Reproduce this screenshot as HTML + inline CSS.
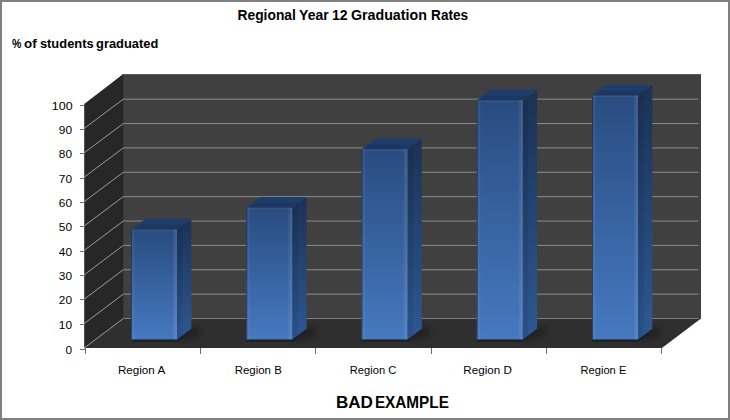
<!DOCTYPE html>
<html><head><meta charset="utf-8"><style>
html,body{margin:0;padding:0;background:#fff;}
body{width:730px;height:420px;overflow:hidden;position:relative;font-family:"Liberation Sans",sans-serif;}
.frame{position:absolute;left:0;top:0;width:730px;height:420px;box-sizing:border-box;border:2px solid #7f7f7f;}
svg{position:absolute;left:0;top:0;}
</style></head><body>
<svg width="730" height="420" viewBox="0 0 730 420">
<defs>
<linearGradient id="gf" x1="0" y1="0" x2="0" y2="1"><stop offset="0" stop-color="#294c80"/><stop offset="1" stop-color="#4679c0"/></linearGradient>
<linearGradient id="gs" x1="0" y1="0" x2="0" y2="1"><stop offset="0" stop-color="#1a3254"/><stop offset="1" stop-color="#2e5894"/></linearGradient>
<filter id="bl" x="-50%" y="-50%" width="200%" height="200%"><feGaussianBlur stdDeviation="2.5"/></filter>
</defs>
<polygon points="85.7,105.2 123.3,74 701,74 701,319 85.7,348" fill="#404040"/>
<polygon points="84.2,104 123.3,74 123.3,318.5 84.2,348" fill="#272727"/>
<polygon points="84.2,348 123.3,318.5 701,318.5 661.9,348" fill="#2f2f2f"/>
<line x1="123.3" y1="318.5" x2="698.5" y2="318.5" stroke="#7c7c7c" stroke-width="1"/>
<line x1="84.2" y1="348" x2="123.3" y2="318.5" stroke="#9c9c9c" stroke-width="1"/>
<line x1="123.3" y1="294.13" x2="698.5" y2="294.13" stroke="#8c8c8c" stroke-width="1"/>
<line x1="84.2" y1="323.6" x2="123.3" y2="294.13" stroke="#9c9c9c" stroke-width="1"/>
<line x1="123.3" y1="269.76" x2="698.5" y2="269.76" stroke="#8c8c8c" stroke-width="1"/>
<line x1="84.2" y1="299.2" x2="123.3" y2="269.76" stroke="#9c9c9c" stroke-width="1"/>
<line x1="123.3" y1="245.39" x2="698.5" y2="245.39" stroke="#8c8c8c" stroke-width="1"/>
<line x1="84.2" y1="274.8" x2="123.3" y2="245.39" stroke="#9c9c9c" stroke-width="1"/>
<line x1="123.3" y1="221.02" x2="698.5" y2="221.02" stroke="#8c8c8c" stroke-width="1"/>
<line x1="84.2" y1="250.4" x2="123.3" y2="221.02" stroke="#9c9c9c" stroke-width="1"/>
<line x1="123.3" y1="196.65" x2="698.5" y2="196.65" stroke="#8c8c8c" stroke-width="1"/>
<line x1="84.2" y1="226" x2="123.3" y2="196.65" stroke="#9c9c9c" stroke-width="1"/>
<line x1="123.3" y1="172.28" x2="698.5" y2="172.28" stroke="#8c8c8c" stroke-width="1"/>
<line x1="84.2" y1="201.6" x2="123.3" y2="172.28" stroke="#9c9c9c" stroke-width="1"/>
<line x1="123.3" y1="147.91" x2="698.5" y2="147.91" stroke="#8c8c8c" stroke-width="1"/>
<line x1="84.2" y1="177.2" x2="123.3" y2="147.91" stroke="#9c9c9c" stroke-width="1"/>
<line x1="123.3" y1="123.54" x2="698.5" y2="123.54" stroke="#8c8c8c" stroke-width="1"/>
<line x1="84.2" y1="152.8" x2="123.3" y2="123.54" stroke="#9c9c9c" stroke-width="1"/>
<line x1="123.3" y1="99.17" x2="698.5" y2="99.17" stroke="#8c8c8c" stroke-width="1"/>
<line x1="84.2" y1="128.4" x2="123.3" y2="99.17" stroke="#9c9c9c" stroke-width="1"/>
<line x1="80" y1="349.5" x2="85" y2="349.5" stroke="#707070" stroke-width="1"/>
<line x1="80" y1="324.5" x2="85" y2="324.5" stroke="#707070" stroke-width="1"/>
<line x1="80" y1="299.5" x2="85" y2="299.5" stroke="#707070" stroke-width="1"/>
<line x1="80" y1="275.5" x2="85" y2="275.5" stroke="#707070" stroke-width="1"/>
<line x1="80" y1="251.5" x2="85" y2="251.5" stroke="#707070" stroke-width="1"/>
<line x1="80" y1="226.5" x2="85" y2="226.5" stroke="#707070" stroke-width="1"/>
<line x1="80" y1="202.5" x2="85" y2="202.5" stroke="#707070" stroke-width="1"/>
<line x1="80" y1="178.5" x2="85" y2="178.5" stroke="#707070" stroke-width="1"/>
<line x1="80" y1="153.5" x2="85" y2="153.5" stroke="#707070" stroke-width="1"/>
<line x1="80" y1="129.5" x2="85" y2="129.5" stroke="#707070" stroke-width="1"/>
<line x1="80" y1="105.5" x2="85" y2="105.5" stroke="#707070" stroke-width="1"/>
<line x1="123.3" y1="74.5" x2="701" y2="74.5" stroke="#5a5a5a" stroke-width="1"/>
<line x1="85.5" y1="348" x2="85.5" y2="354" stroke="#6a6a6a" stroke-width="1"/>
<line x1="200.5" y1="348" x2="200.5" y2="354" stroke="#6a6a6a" stroke-width="1"/>
<line x1="315.5" y1="348" x2="315.5" y2="354" stroke="#6a6a6a" stroke-width="1"/>
<line x1="431.5" y1="348" x2="431.5" y2="354" stroke="#6a6a6a" stroke-width="1"/>
<line x1="546.5" y1="348" x2="546.5" y2="354" stroke="#6a6a6a" stroke-width="1"/>
<line x1="661.5" y1="348" x2="661.5" y2="354" stroke="#6a6a6a" stroke-width="1"/>
<polygon points="177,333.4 199.3,326.7 199.3,334.7 181,340.4" fill="#151515" opacity="0.6" filter="url(#bl)"/>
<polygon points="292.25,333.4 314.55,326.7 314.55,334.7 296.25,340.4" fill="#151515" opacity="0.6" filter="url(#bl)"/>
<polygon points="407.5,333.4 429.8,326.7 429.8,334.7 411.5,340.4" fill="#151515" opacity="0.6" filter="url(#bl)"/>
<polygon points="522.75,333.4 545.05,326.7 545.05,334.7 526.75,340.4" fill="#151515" opacity="0.6" filter="url(#bl)"/>
<polygon points="638,333.4 660.3,326.7 660.3,334.7 642,340.4" fill="#151515" opacity="0.6" filter="url(#bl)"/>
<polygon points="131,339.4 177,339.4 191.3,328.7 191.3,330.7 178,341.7 131,341.7" fill="#17222e"/>
<polygon points="177,229.6 191.3,218.9 191.3,328.7 177,339.4" fill="url(#gs)"/>
<polygon points="177,229.6 182.5,225.48 182.5,335.28 177,339.4" fill="#000" opacity="0.07"/>
<polygon points="131,229.6 145.3,218.9 191.3,218.9 177,229.6" fill="#1f3d6b"/>
<polygon points="133,229.6 139.44,224.78 183.44,224.78 177,229.6" fill="#000" opacity="0.08"/>
<rect x="131" y="229.6" width="46" height="109.8" fill="url(#gf)"/>
<rect x="131" y="229.6" width="1" height="109.8" fill="#1c2c44" opacity="0.7"/>
<rect x="173" y="229.6" width="4" height="109.8" fill="#fff" opacity="0.06"/>
<rect x="175" y="229.6" width="2" height="109.8" fill="#fff" opacity="0.05"/>
<rect x="132" y="229.6" width="2.5" height="109.8" fill="#fff" opacity="0.05"/>
<rect x="132" y="230.1" width="45" height="1.2" fill="#fff" opacity="0.06"/>
<polygon points="246.25,339.4 292.25,339.4 306.55,328.7 306.55,330.7 293.25,341.7 246.25,341.7" fill="#17222e"/>
<polygon points="292.25,207.64 306.55,196.94 306.55,328.7 292.25,339.4" fill="url(#gs)"/>
<polygon points="292.25,207.64 297.75,203.52 297.75,335.28 292.25,339.4" fill="#000" opacity="0.07"/>
<polygon points="246.25,207.64 260.55,196.94 306.55,196.94 292.25,207.64" fill="#1f3d6b"/>
<polygon points="248.25,207.64 254.69,202.82 298.69,202.82 292.25,207.64" fill="#000" opacity="0.08"/>
<rect x="246.25" y="207.64" width="46" height="131.76" fill="url(#gf)"/>
<rect x="246.25" y="207.64" width="1" height="131.76" fill="#1c2c44" opacity="0.7"/>
<rect x="288.25" y="207.64" width="4" height="131.76" fill="#fff" opacity="0.06"/>
<rect x="290.25" y="207.64" width="2" height="131.76" fill="#fff" opacity="0.05"/>
<rect x="247.25" y="207.64" width="2.5" height="131.76" fill="#fff" opacity="0.05"/>
<rect x="247.25" y="208.14" width="45" height="1.2" fill="#fff" opacity="0.06"/>
<polygon points="361.5,339.4 407.5,339.4 421.8,328.7 421.8,330.7 408.5,341.7 361.5,341.7" fill="#17222e"/>
<polygon points="407.5,149.08 421.8,138.38 421.8,328.7 407.5,339.4" fill="url(#gs)"/>
<polygon points="407.5,149.08 413,144.96 413,335.28 407.5,339.4" fill="#000" opacity="0.07"/>
<polygon points="361.5,149.08 375.8,138.38 421.8,138.38 407.5,149.08" fill="#1f3d6b"/>
<polygon points="363.5,149.08 369.94,144.26 413.94,144.26 407.5,149.08" fill="#000" opacity="0.08"/>
<rect x="361.5" y="149.08" width="46" height="190.32" fill="url(#gf)"/>
<rect x="361.5" y="149.08" width="1" height="190.32" fill="#1c2c44" opacity="0.7"/>
<rect x="403.5" y="149.08" width="4" height="190.32" fill="#fff" opacity="0.06"/>
<rect x="405.5" y="149.08" width="2" height="190.32" fill="#fff" opacity="0.05"/>
<rect x="362.5" y="149.08" width="2.5" height="190.32" fill="#fff" opacity="0.05"/>
<rect x="362.5" y="149.58" width="45" height="1.2" fill="#fff" opacity="0.06"/>
<polygon points="476.75,339.4 522.75,339.4 537.05,328.7 537.05,330.7 523.75,341.7 476.75,341.7" fill="#17222e"/>
<polygon points="522.75,100.28 537.05,89.58 537.05,328.7 522.75,339.4" fill="url(#gs)"/>
<polygon points="522.75,100.28 528.25,96.16 528.25,335.28 522.75,339.4" fill="#000" opacity="0.07"/>
<polygon points="476.75,100.28 491.05,89.58 537.05,89.58 522.75,100.28" fill="#1f3d6b"/>
<polygon points="478.75,100.28 485.19,95.46 529.18,95.46 522.75,100.28" fill="#000" opacity="0.08"/>
<rect x="476.75" y="100.28" width="46" height="239.12" fill="url(#gf)"/>
<rect x="476.75" y="100.28" width="1" height="239.12" fill="#1c2c44" opacity="0.7"/>
<rect x="518.75" y="100.28" width="4" height="239.12" fill="#fff" opacity="0.06"/>
<rect x="520.75" y="100.28" width="2" height="239.12" fill="#fff" opacity="0.05"/>
<rect x="477.75" y="100.28" width="2.5" height="239.12" fill="#fff" opacity="0.05"/>
<rect x="477.75" y="100.78" width="45" height="1.2" fill="#fff" opacity="0.06"/>
<polygon points="592,339.4 638,339.4 652.3,328.7 652.3,330.7 639,341.7 592,341.7" fill="#17222e"/>
<polygon points="638,95.4 652.3,84.7 652.3,328.7 638,339.4" fill="url(#gs)"/>
<polygon points="638,95.4 643.5,91.28 643.5,335.28 638,339.4" fill="#000" opacity="0.07"/>
<polygon points="592,95.4 606.3,84.7 652.3,84.7 638,95.4" fill="#1f3d6b"/>
<polygon points="594,95.4 600.43,90.58 644.43,90.58 638,95.4" fill="#000" opacity="0.08"/>
<rect x="592" y="95.4" width="46" height="244" fill="url(#gf)"/>
<rect x="592" y="95.4" width="1" height="244" fill="#1c2c44" opacity="0.7"/>
<rect x="634" y="95.4" width="4" height="244" fill="#fff" opacity="0.06"/>
<rect x="636" y="95.4" width="2" height="244" fill="#fff" opacity="0.05"/>
<rect x="593" y="95.4" width="2.5" height="244" fill="#fff" opacity="0.05"/>
<rect x="593" y="95.9" width="45" height="1.2" fill="#fff" opacity="0.06"/>
<text x="237.5" y="19.8" font-family="Liberation Sans, sans-serif" font-weight="bold" font-size="14" textLength="58.39" lengthAdjust="spacingAndGlyphs" fill="#000">Regional</text>
<text x="299.1" y="19.8" font-family="Liberation Sans, sans-serif" font-weight="bold" font-size="14" textLength="29.59" lengthAdjust="spacingAndGlyphs" fill="#000">Year</text>
<text x="331.9" y="19.8" font-family="Liberation Sans, sans-serif" font-weight="bold" font-size="14" textLength="15.57" lengthAdjust="spacingAndGlyphs" fill="#000">12</text>
<text x="350.9" y="19.8" font-family="Liberation Sans, sans-serif" font-weight="bold" font-size="14" textLength="76.01" lengthAdjust="spacingAndGlyphs" fill="#000">Graduation</text>
<text x="431.1" y="19.8" font-family="Liberation Sans, sans-serif" font-weight="bold" font-size="14" textLength="36.99" lengthAdjust="spacingAndGlyphs" fill="#000">Rates</text>
<text x="11.9" y="47.8" font-family="Liberation Sans, sans-serif" font-weight="bold" font-size="13" textLength="9.32" lengthAdjust="spacingAndGlyphs" fill="#000">%</text>
<text x="24.1" y="47.8" font-family="Liberation Sans, sans-serif" font-weight="bold" font-size="13" textLength="12.6" lengthAdjust="spacingAndGlyphs" fill="#000">of</text>
<text x="39.9" y="47.8" font-family="Liberation Sans, sans-serif" font-weight="bold" font-size="13" textLength="53.8" lengthAdjust="spacingAndGlyphs" fill="#000">students</text>
<text x="96.1" y="47.8" font-family="Liberation Sans, sans-serif" font-weight="bold" font-size="13" textLength="62.19" lengthAdjust="spacingAndGlyphs" fill="#000">graduated</text>
<text x="335.9" y="407.8" font-family="Liberation Sans, sans-serif" font-weight="bold" font-size="16.5" textLength="36.99" lengthAdjust="spacingAndGlyphs" fill="#000">BAD</text>
<text x="374.9" y="407.8" font-family="Liberation Sans, sans-serif" font-weight="bold" font-size="16.5" textLength="74" lengthAdjust="spacingAndGlyphs" fill="#000">EXAMPLE</text>
<text x="72" y="354.4" font-family="Liberation Sans, sans-serif" font-size="11.5" text-anchor="end" textLength="6.6" lengthAdjust="spacingAndGlyphs" fill="#000">0</text>
<text x="72" y="329.4" font-family="Liberation Sans, sans-serif" font-size="11.5" text-anchor="end" textLength="13.2" lengthAdjust="spacingAndGlyphs" fill="#000">10</text>
<text x="72" y="304.4" font-family="Liberation Sans, sans-serif" font-size="11.5" text-anchor="end" textLength="13.2" lengthAdjust="spacingAndGlyphs" fill="#000">20</text>
<text x="72" y="280.4" font-family="Liberation Sans, sans-serif" font-size="11.5" text-anchor="end" textLength="13.2" lengthAdjust="spacingAndGlyphs" fill="#000">30</text>
<text x="72" y="256.4" font-family="Liberation Sans, sans-serif" font-size="11.5" text-anchor="end" textLength="13.2" lengthAdjust="spacingAndGlyphs" fill="#000">40</text>
<text x="72" y="231.4" font-family="Liberation Sans, sans-serif" font-size="11.5" text-anchor="end" textLength="13.2" lengthAdjust="spacingAndGlyphs" fill="#000">50</text>
<text x="72" y="207.4" font-family="Liberation Sans, sans-serif" font-size="11.5" text-anchor="end" textLength="13.2" lengthAdjust="spacingAndGlyphs" fill="#000">60</text>
<text x="72" y="183.4" font-family="Liberation Sans, sans-serif" font-size="11.5" text-anchor="end" textLength="13.2" lengthAdjust="spacingAndGlyphs" fill="#000">70</text>
<text x="72" y="158.4" font-family="Liberation Sans, sans-serif" font-size="11.5" text-anchor="end" textLength="13.2" lengthAdjust="spacingAndGlyphs" fill="#000">80</text>
<text x="72" y="134.4" font-family="Liberation Sans, sans-serif" font-size="11.5" text-anchor="end" textLength="13.2" lengthAdjust="spacingAndGlyphs" fill="#000">90</text>
<text x="72.6" y="110.4" font-family="Liberation Sans, sans-serif" font-size="11.5" text-anchor="end" textLength="20.8" lengthAdjust="spacingAndGlyphs" fill="#000">100</text>
<text x="117.9" y="373.6" font-family="Liberation Sans, sans-serif" font-size="10" textLength="47.3" lengthAdjust="spacingAndGlyphs" fill="#000">Region A</text>
<text x="234.7" y="373.6" font-family="Liberation Sans, sans-serif" font-size="10" textLength="47.1" lengthAdjust="spacingAndGlyphs" fill="#000">Region B</text>
<text x="349.8" y="373.6" font-family="Liberation Sans, sans-serif" font-size="10" textLength="46.5" lengthAdjust="spacingAndGlyphs" fill="#000">Region C</text>
<text x="463.3" y="373.6" font-family="Liberation Sans, sans-serif" font-size="10" textLength="48.5" lengthAdjust="spacingAndGlyphs" fill="#000">Region D</text>
<text x="580.6" y="373.6" font-family="Liberation Sans, sans-serif" font-size="10" textLength="45.7" lengthAdjust="spacingAndGlyphs" fill="#000">Region E</text>
</svg>
<div class="frame"></div>
</body></html>
